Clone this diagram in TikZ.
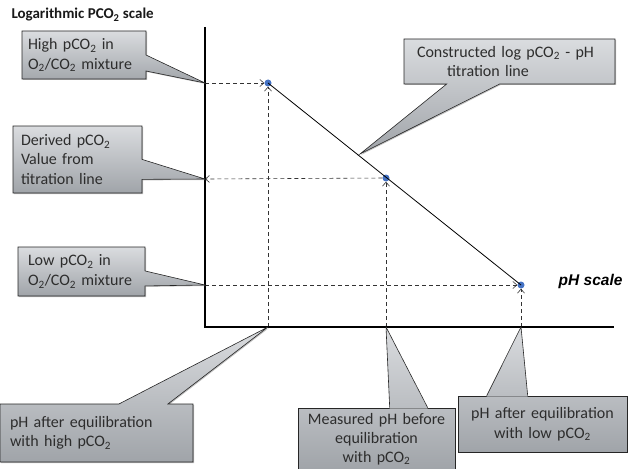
\documentclass[tikz,border=0pt]{standalone}
\usepackage{fontspec}
\setmainfont{Carlito}
\newfontfamily\arialfont{Liberation Sans}
\usetikzlibrary{arrows.meta,shapes.callouts,shadows}
\definecolor{boxtop}{RGB}{218,220,223}
\definecolor{boxbot}{RGB}{160,164,169}
\definecolor{dotblue}{RGB}{68,114,196}
\definecolor{txtgray}{RGB}{45,45,45}
\newcommand{\pco}{pCO\textsubscript{2}}
\newcommand{\oco}{O\textsubscript{2}/CO\textsubscript{2}}
\tikzset{
    callbox/.style={rectangle callout, draw=black!85, line width=0.6pt,
        top color=boxtop, bottom color=boxbot, text=txtgray,
        font=\fontsize{16}{19.5}\selectfont, inner ysep=0pt,
        drop shadow={shadow xshift=1pt, shadow yshift=-1pt, fill=black!50}},
    plainbox/.style={rectangle, draw=black!85, line width=0.6pt,
        top color=boxtop!45!boxbot, bottom color=boxbot, text=txtgray,
        font=\fontsize{16}{19.5}\selectfont, inner ysep=0pt,
        drop shadow={shadow xshift=1pt, shadow yshift=-1pt, fill=black!50}},
    wedge/.style={top color=boxtop, bottom color=boxtop!45!boxbot},
    dot/.style={circle, fill=dotblue, inner sep=0pt, minimum size=7pt},
    guide/.style={dash pattern=on 4pt off 3pt, line width=0.6pt, black!80,
        -{Straight Barb[length=4pt,width=7pt]}},
    axis/.style={line width=2.6pt, line join=miter}
}

\begin{document}
\begin{tikzpicture}[line cap=butt,x=1pt,y=-1pt]
    \useasboundingbox (0,0) rectangle (628,468);

    % axis points
    \coordinate (top) at (205,27);
    \coordinate (xend) at (614,327);
    \coordinate (y1) at (205,83);
    \coordinate (y2) at (205,179);
    \coordinate (y3) at (205,285);
    \coordinate (x1) at (268,327);
    \coordinate (x2) at (386,327);
    \coordinate (x3) at (521,327);
    \coordinate (tline) at (360,154);

    % titration line and its points
    \node[dot] (p1) at (268,83) {};
    \node[dot] (p2) at (386,178) {};
    \node[dot] (p3) at (521,285) {};
    \draw [line width=0.8pt] (p1.center) -- (p3.center);

    \draw [guide] (y1) -- (p1);
    \draw [guide] (x1) -- (p1);
    \draw [guide] (x2) -- (p2);
    \draw [guide] (p2) -- (y2);
    \draw [guide] (y3) -- (p3);
    \draw [guide] (x3) -- (p3);

    \draw [axis] (top) |- (xend);

    \node[anchor=west, font=\bfseries\fontsize{15}{17}\selectfont, text=black!90] (title) at (8,15)
        {Logarithmic PCO\textsubscript{2} scale};
    \node[anchor=east, font=\arialfont\bfseries\itshape\fontsize{15.5}{18}\selectfont] (phscale) at (626,281) {pH scale};

    % callouts
    \node[callbox, align=left, text width=112pt, inner xsep=6pt, minimum height=48pt,
        callout absolute pointer={(y1)}, callout pointer width=16pt] (high) at (84,55)
        {High \pco{} in\\\oco{} mixture};
    \node[callbox, align=left, text width=113pt, inner xsep=8pt, minimum height=67pt,
        callout absolute pointer={(y2)}, callout pointer width=20pt] (derived) at (77.5,159.5)
        {Derived \pco\\Value from\\titration line};
    \node[callbox, align=left, text width=107pt, inner xsep=10pt, minimum height=49pt,
        callout absolute pointer={(y3)}, callout pointer width=15pt] (low) at (81.5,271.5)
        {Low \pco{} in\\\oco{} mixture};
    \node[callbox, align=left, text width=173pt, inner xsep=10pt, minimum height=58pt,
        callout absolute pointer={(x1)}, callout pointer width=49pt] (phhigh) at (96.5,433)
        {pH after equilibration\\with high \pco};
    \node[callbox, align=left, text width=185pt, inner xsep=13pt, minimum height=45pt,
        callout absolute pointer={(tline)}, callout pointer width=53pt] (constructed) at (509.5,61.5)
        {Constructed log \pco{} - pH\\\hspace*{30pt}titration line};

    % boxes with pointers off centre
    \node[plainbox, align=center, text width=149pt, inner xsep=4pt, minimum height=62pt,
        font=\fontsize{16}{19}\selectfont] (measured) at (376.5,439)
        {Measured pH before\\equilibration\\with \pco};
    \shade[wedge] (x2) -- ([xshift=92pt,yshift=-0.8pt]measured.north west)
        -- ([xshift=130pt,yshift=-0.8pt]measured.north west) -- cycle;
    \draw [black!85, line width=0.6pt] ([xshift=92pt]measured.north west) -- (x2)
        -- ([xshift=130pt]measured.north west);

    \node[plainbox, align=center, text width=161pt, inner xsep=4pt, minimum height=56pt] (phlow) at (542.5,424)
        {pH after equilibration\\with low \pco};
    \shade[wedge] (x3) -- ([xshift=29pt,yshift=-0.8pt]phlow.north west)
        -- ([xshift=70pt,yshift=-0.8pt]phlow.north west) -- cycle;
    \draw [black!85, line width=0.6pt] ([xshift=29pt]phlow.north west) -- (x3)
        -- ([xshift=70pt]phlow.north west);
\end{tikzpicture}
\end{document}
